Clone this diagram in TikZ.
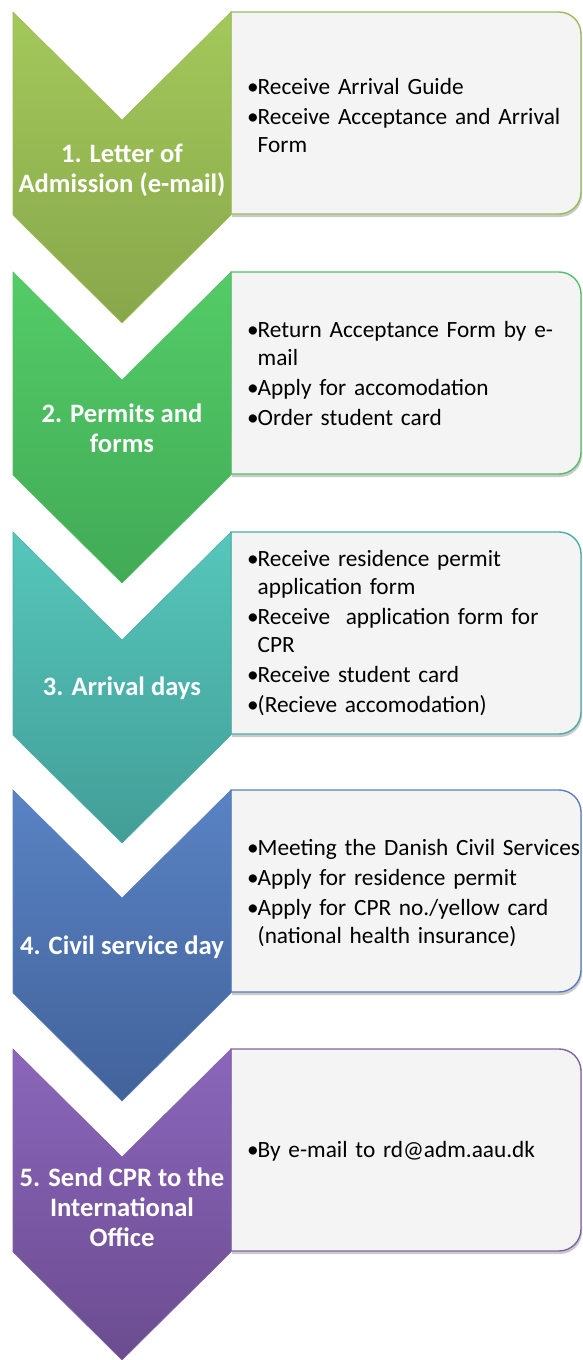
\documentclass[tikz,border=0pt]{standalone}
\usepackage{fontspec}
\setmainfont{Carlito}
\usetikzlibrary{shadows}

% colours of the five steps
\definecolor{oneTop}{HTML}{A3C85A}
\definecolor{oneBot}{HTML}{88A74B}
\definecolor{oneLine}{HTML}{9BBB59}
\definecolor{twoTop}{HTML}{54CC67}
\definecolor{twoBot}{HTML}{41AA56}
\definecolor{twoLine}{HTML}{55BF66}
\definecolor{threeTop}{HTML}{56C6BB}
\definecolor{threeBot}{HTML}{429E97}
\definecolor{threeLine}{HTML}{4AADA5}
\definecolor{fourTop}{HTML}{5983C4}
\definecolor{fourBot}{HTML}{42629A}
\definecolor{fourLine}{HTML}{5A7FBA}
\definecolor{fiveTop}{HTML}{8B66BB}
\definecolor{fiveBot}{HTML}{6B4C90}
\definecolor{fiveLine}{HTML}{8064A2}
\definecolor{boxFill}{HTML}{F4F4F4}

\newcommand\bul[1]{\noindent\hangindent=10.5pt\hangafter=1\makebox[10.5pt][l]{\textbullet}#1\par}

\tikzset{
  stepshape/.style={line width=0.6pt},
  infobox/.style={fill=boxFill, line width=1.4pt,
    drop shadow={shadow xshift=1pt, shadow yshift=-3pt, opacity=0.35, fill=black!60}},
  steplabel/.style={text=white, align=center, font=\fontsize{26.6}{30}\selectfont\bfseries},
  infotext/.style={anchor=west, text width=350pt, inner sep=0pt,
    font=\fontsize{23.3}{28}\selectfont, execute at begin node={\raggedright\parskip=2pt}},
}

% chevron: #1 = top y
\newcommand\chevron[2]{%
  \draw[stepshape, #2] (13,#1) -- (122,#1+108) -- (231,#1) -- (231,#1+203)
    -- (122,#1+311) -- (13,#1+203) -- cycle;}
% box with round right corners: #1 = top y
\newcommand\infobox[2]{%
  \path[infobox, draw=#2] (231,#1) -- (559,#1) arc[start angle=270, end angle=360, radius=22]
    -- (581,#1+180) arc[start angle=0, end angle=90, radius=22] -- (231,#1+202) -- cycle;}

\begin{document}
\begin{tikzpicture}[x=1pt,y=-1pt]
  \useasboundingbox (0,0) rectangle (582,1360);

  % step 1
  \infobox{12}{oneLine}
  \chevron{12}{top color=oneTop, bottom color=oneBot, draw=oneLine}
  \node[steplabel] (admission) at (122,170) {1. Letter of\\Admission (e-mail)};
  \node[infotext] (admissionlist) at (247,115) {%
    \bul{Receive Arrival Guide}
    \bul{Receive Acceptance and Arrival\newline Form}};

  % step 2
  \infobox{272}{twoLine}
  \chevron{272}{top color=twoTop, bottom color=twoBot, draw=twoLine}
  \node[steplabel] (permits) at (122,428) {2. Permits and\\forms};
  \node[infotext] (permitslist) at (247,373) {%
    \bul{Return Acceptance Form by e-\newline mail}
    \bul{Apply for accomodation}
    \bul{Order student card}};

  % step 3
  \infobox{532}{threeLine}
  \chevron{532}{top color=threeTop, bottom color=threeBot, draw=threeLine}
  \node[steplabel] (arrival) at (122,688) {3. Arrival days};
  \node[infotext] (arrivallist) at (247,633) {%
    \bul{Receive residence permit\newline application form}
    \bul{Receive\ \ application form for\newline CPR}
    \bul{Receive student card}
    \bul{(Recieve accomodation)}};

  % step 4
  \infobox{790}{fourLine}
  \chevron{790}{top color=fourTop, bottom color=fourBot, draw=fourLine}
  \node[steplabel] (civil) at (122,947) {4. Civil service day};
  \node[infotext] (civillist) at (247,893) {%
    \bul{Meeting the Danish Civil Services}
    \bul{Apply for residence permit}
    \bul{Apply for CPR no./yellow card\newline (national health insurance)}};

  % step 5
  \infobox{1049}{fiveLine}
  \chevron{1049}{top color=fiveTop, bottom color=fiveBot, draw=fiveLine}
  \node[steplabel] (sendcpr) at (122,1207) {5. Send CPR to the\\International\\Office};
  \node[infotext] (sendcprlist) at (247,1151) {%
    \bul{By e-mail to rd@adm.aau.dk}};
\end{tikzpicture}
\end{document}
